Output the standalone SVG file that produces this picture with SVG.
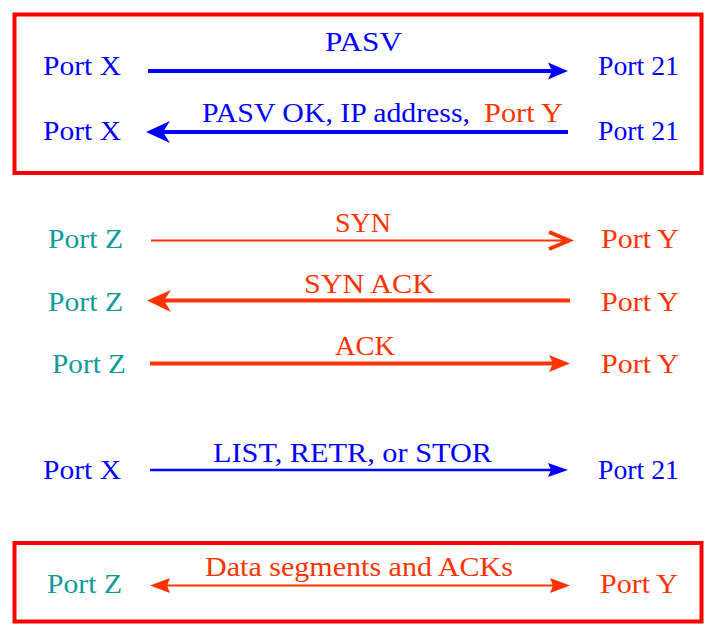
<svg xmlns="http://www.w3.org/2000/svg" width="711" height="627" viewBox="0 0 711 627">
<style>
text{font-family:"Liberation Serif","Times New Roman",serif;font-size:28px}
.b{fill:#0000ff}.o{fill:#ff3300}.t{fill:#119a9a}
.box{fill:none;stroke:#ff0000;stroke-width:4}
.lb{stroke:#0000ff;fill:none}.lo{stroke:#ff3300;fill:none}
.hb{fill:#0000ff}.ho{fill:#ff3300}
</style>
<rect width="711" height="627" fill="#ffffff"/>
<g id="boxes">
<rect class="box" x="14.5" y="14.5" width="687" height="158.5"/>
<rect class="box" x="14.5" y="543" width="687" height="78.5"/>
</g>
<g id="connectors">
<line class="lb" x1="148" y1="71" x2="553" y2="71" stroke-width="4"/>
<polygon class="hb" points="568,71 548,62.5 552,71 548,79.5"/>
<line class="lb" x1="160" y1="132" x2="568" y2="132" stroke-width="4"/>
<polygon class="hb" points="146,132 170,121 163,132 170,143"/>
<line class="lo" x1="151" y1="240.5" x2="568" y2="240.5" stroke-width="2"/>
<polyline class="lo" points="549,232 569,240.5 549,249" stroke-width="4"/>
<line class="lo" x1="160" y1="300.5" x2="570" y2="300.5" stroke-width="4"/>
<polygon class="ho" points="147,300.5 171,290 164,300.5 171,312"/>
<line class="lo" x1="150" y1="363.5" x2="555" y2="363.5" stroke-width="4"/>
<polygon class="ho" points="570,363.5 549,355 553,363.5 549,372"/>
<line class="lb" x1="150" y1="470" x2="553" y2="470" stroke-width="2.5"/>
<polygon class="hb" points="568,470 548,463 551,470 548,477"/>
<line class="lo" x1="160" y1="585.5" x2="560" y2="585.5" stroke-width="2"/>
<polygon class="ho" points="150,585.5 170,578 167,585.5 170,593"/>
<polygon class="ho" points="570,585.5 550,578 553,585.5 550,593"/>
</g>
<g id="node-portX-1"><text class="b" x="43" y="75" textLength="78" lengthAdjust="spacingAndGlyphs">Port X</text></g>
<g id="node-port21-1"><text class="b" x="598" y="75" textLength="81" lengthAdjust="spacingAndGlyphs">Port 21</text></g>
<g id="node-portX-2"><text class="b" x="43" y="140" textLength="78" lengthAdjust="spacingAndGlyphs">Port X</text></g>
<g id="node-port21-2"><text class="b" x="598" y="140" textLength="81" lengthAdjust="spacingAndGlyphs">Port 21</text></g>
<g id="node-portZ-1"><text class="t" x="48" y="248" textLength="75" lengthAdjust="spacingAndGlyphs">Port Z</text></g>
<g id="node-portY-1"><text class="o" x="601" y="248" textLength="78" lengthAdjust="spacingAndGlyphs">Port Y</text></g>
<g id="node-portZ-2"><text class="t" x="48" y="310.5" textLength="75" lengthAdjust="spacingAndGlyphs">Port Z</text></g>
<g id="node-portY-2"><text class="o" x="601" y="310.5" textLength="78" lengthAdjust="spacingAndGlyphs">Port Y</text></g>
<g id="node-portZ-3"><text class="t" x="52" y="373" textLength="74" lengthAdjust="spacingAndGlyphs">Port Z</text></g>
<g id="node-portY-3"><text class="o" x="601" y="373" textLength="78" lengthAdjust="spacingAndGlyphs">Port Y</text></g>
<g id="node-portX-3"><text class="b" x="43" y="479" textLength="78" lengthAdjust="spacingAndGlyphs">Port X</text></g>
<g id="node-port21-3"><text class="b" x="598" y="479" textLength="81" lengthAdjust="spacingAndGlyphs">Port 21</text></g>
<g id="node-portZ-4"><text class="t" x="47" y="593" textLength="75" lengthAdjust="spacingAndGlyphs">Port Z</text></g>
<g id="node-portY-4"><text class="o" x="600" y="593" textLength="78" lengthAdjust="spacingAndGlyphs">Port Y</text></g>
<g id="labels">
<text class="b" x="325" y="50.5" textLength="77" lengthAdjust="spacingAndGlyphs">PASV</text>
<text class="b" x="202" y="122" textLength="268" lengthAdjust="spacingAndGlyphs">PASV OK, IP address,</text>
<text class="o" x="484" y="122" textLength="79" lengthAdjust="spacingAndGlyphs">Port Y</text>
<text class="o" x="335" y="231.5" textLength="56" lengthAdjust="spacingAndGlyphs">SYN</text>
<text class="o" x="304" y="292.5" textLength="130" lengthAdjust="spacingAndGlyphs">SYN ACK</text>
<text class="o" x="335" y="355" textLength="60" lengthAdjust="spacingAndGlyphs">ACK</text>
<text class="b" x="213" y="461.5" textLength="279" lengthAdjust="spacingAndGlyphs">LIST, RETR, or STOR</text>
<text class="o" x="205" y="575.5" textLength="308" lengthAdjust="spacingAndGlyphs">Data segments and ACKs</text>
</g>
</svg>
